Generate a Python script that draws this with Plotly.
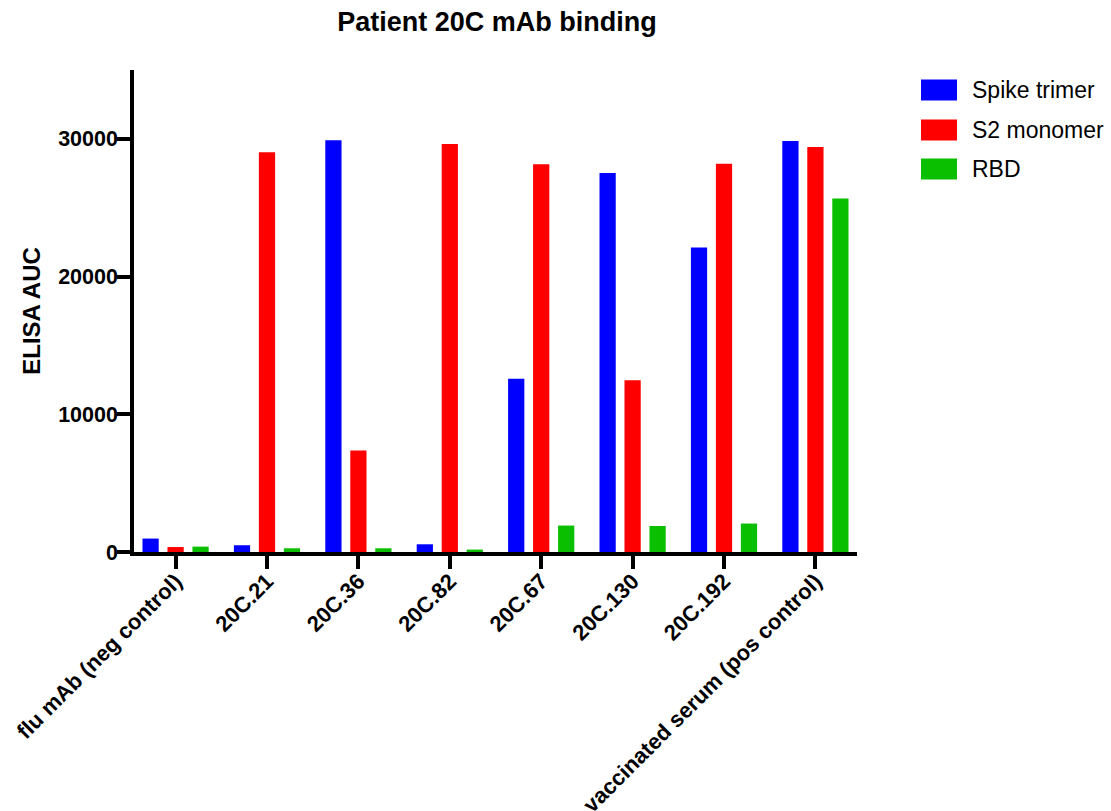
import plotly.graph_objects as go

categories = ["flu mAb (neg control)", "20C.21", "20C.36", "20C.82", "20C.67",
              "20C.130", "20C.192", "vaccinated serum (pos control)"]
series_names = ["Spike trimer", "S2 monomer", "RBD"]
spike_trimer = [975, 490, 29890, 560, 12580, 27520, 22110, 29850]
s2_monomer = [360, 29020, 7375, 29630, 28150, 12465, 28200, 29410]
rbd = [390, 270, 270, 175, 1920, 1890, 2065, 25670]
y_ticks = [0, 10000, 20000, 30000]

colors = ["#0000FF", "#FF0000", "#0ABF00"]
values = [spike_trimer, s2_monomer, rbd]

W, H = 1111, 811
L, R, T, B = 134, 1111 - 857, 70, 811 - 552
FONT = "Arial, Liberation Sans, sans-serif"

fig = go.Figure()
for name, vals, col in zip(series_names, values, colors):
    fig.add_trace(go.Bar(x=list(range(len(categories))), y=vals, name=name,
                         marker=dict(color=col, line=dict(width=0)),
                         showlegend=False))

def px_x(p):
    return (p - L) / (W - L - R)

def px_y(p):
    return (H - B - p) / (H - T - B)

# legend drawn manually (larger swatches than native)
leg_rows = [90, 130, 169]
shapes = []
annotations = []
for name, col, yc in zip(series_names, colors, leg_rows):
    shapes.append(dict(type="rect", xref="paper", yref="paper",
                       x0=px_x(921), x1=px_x(957), y0=px_y(yc + 10.5), y1=px_y(yc - 10.5),
                       fillcolor=col, line=dict(width=0)))
    annotations.append(dict(text=name, xref="paper", yref="paper", x=px_x(970), y=px_y(yc),
                            xanchor="left", yanchor="middle", showarrow=False,
                            font=dict(family=FONT, size=23, color="black")))

fig.update_layout(
    width=W, height=H,
    margin=dict(l=L, r=R, t=T, b=B),
    paper_bgcolor="white", plot_bgcolor="white",
    barmode="group", bargap=0.18, bargroupgap=0.35,
    title=dict(text="<b>Patient 20C mAb binding</b>", x=px_x(497), xref="paper",
               xanchor="center", y=1 - 22 / H, yanchor="middle",
               font=dict(family=FONT, size=27, color="black")),
    shapes=shapes, annotations=annotations,
    xaxis=dict(tickmode="array", tickvals=list(range(len(categories))),
               ticktext=["<b>%s</b>" % c for c in categories],
               range=[-0.455, 7.455], tickangle=-45,
               showline=True, linecolor="black", linewidth=3.5,
               ticks="outside", ticklen=13, tickwidth=3.5, tickcolor="black",
               ticklabelstandoff=-9,
               showgrid=False, zeroline=False, automargin=False,
               tickfont=dict(family=FONT, size=22, color="black")),
    yaxis=dict(range=[0, 35000], tickmode="array", tickvals=y_ticks,
               ticktext=["<b>%d</b>" % v for v in y_ticks],
               showline=True, linecolor="black", linewidth=3.5,
               ticks="outside", ticklen=13, tickwidth=3.5, tickcolor="black",
               ticklabelstandoff=-5,
               showgrid=False, zeroline=False, automargin=False,
               title=dict(text="<b>ELISA AUC</b>", standoff=12,
                          font=dict(family=FONT, size=24, color="black")),
               tickfont=dict(family=FONT, size=21.5, color="black")),
)

fig.write_html("out.html")
